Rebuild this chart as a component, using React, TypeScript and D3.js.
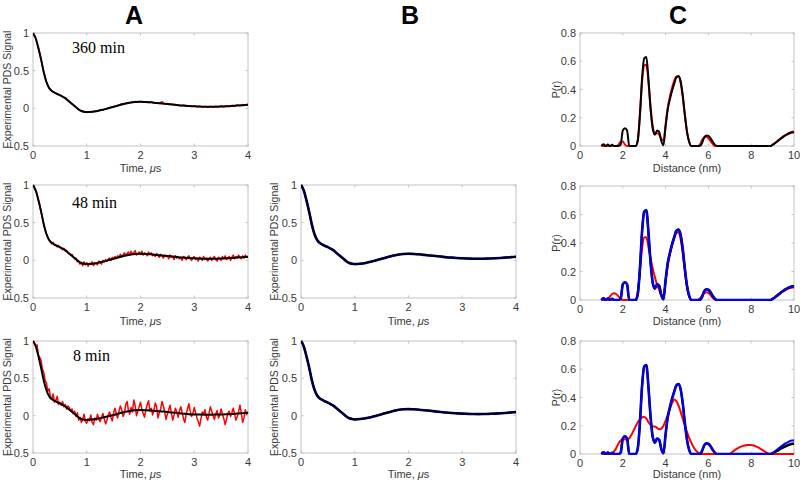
import React from "react";
import * as d3 from "d3";

// ---------- Panel A / B : fitted time-domain curves ----------
const FIT_T = [0, 0.05, 0.1, 0.15, 0.2, 0.25, 0.3, 0.35, 0.4, 0.45, 0.5, 0.55, 0.6, 0.65, 0.7, 0.75, 0.8, 0.85, 0.9, 0.95, 1.0, 1.1, 1.2, 1.3, 1.4, 1.5, 1.6, 1.7, 1.8, 1.9, 2.0, 2.1, 2.2, 2.3, 2.4, 2.5, 2.6, 2.7, 2.8, 2.9, 3.0, 3.1, 3.2, 3.3, 3.4, 3.5, 3.6, 3.7, 3.8, 3.9, 4.0];
const FIT_MAIN = [1.0, 0.93, 0.8, 0.65, 0.48, 0.35, 0.27, 0.23, 0.21, 0.19, 0.175, 0.155, 0.135, 0.105, 0.075, 0.045, 0.015, -0.015, -0.035, -0.045, -0.05, -0.045, -0.035, -0.02, 0.0, 0.02, 0.04, 0.06, 0.075, 0.085, 0.088, 0.085, 0.08, 0.072, 0.065, 0.057, 0.05, 0.042, 0.036, 0.031, 0.027, 0.024, 0.022, 0.021, 0.022, 0.024, 0.027, 0.031, 0.036, 0.042, 0.048];
const FIT_8 = [1.0, 0.93, 0.8, 0.64, 0.47, 0.34, 0.26, 0.22, 0.2, 0.18, 0.165, 0.145, 0.125, 0.095, 0.065, 0.035, 0.005, -0.025, -0.045, -0.055, -0.058, -0.052, -0.04, -0.025, -0.008, 0.01, 0.03, 0.048, 0.062, 0.071, 0.075, 0.074, 0.07, 0.064, 0.057, 0.05, 0.042, 0.034, 0.027, 0.02, 0.016, 0.014, 0.013, 0.013, 0.014, 0.016, 0.019, 0.023, 0.028, 0.034, 0.04];

// Experimental (red) traces, sampled every 25 ns (8 & 48 min) and 50 ns (360 min)
const EXP_8MIN = [
  1.0, 0.98, 0.93, 0.95, 0.82, 0.78, 0.74, 0.62, 0.58, 0.47, 0.44, 0.33, 0.36, 0.25, 0.22, 0.29, 0.18, 0.2, 0.26, 0.15,
  0.18, 0.14, 0.19, 0.12, 0.15, 0.09, 0.13, 0.11, 0.06, 0.09,
  0.03, 0.06, -0.01, 0.04, -0.06, -0.02, -0.09, -0.05, 0.02, -0.08,
  -0.1, -0.04, -0.07, 0.01, -0.09, -0.12, -0.03, -0.06, 0.02, -0.05,
  -0.08, -0.02, 0.03, -0.04, -0.11, -0.06, 0.01, 0.05, -0.02, -0.07,
  0.04, 0.1, 0.02, -0.03, 0.06, 0.13, 0.08, -0.01, 0.03, 0.15,
  0.19, 0.07, 0.02, 0.11, 0.05, 0.21, 0.14, 0.0, 0.06, 0.12,
  0.18, 0.09, 0.03, -0.02, 0.08, 0.15, 0.2, 0.06, 0.1, 0.01,
  0.07, 0.17, 0.12, -0.03, 0.04, 0.09, 0.19, 0.13, 0.05, -0.05,
  0.02, 0.08, 0.14, 0.03, -0.06, 0.01, 0.1, 0.05, -0.02, 0.07,
  0.12, 0.04, -0.04, -0.09, 0.02, 0.09, 0.16, 0.06, -0.01, 0.03,
  0.11, 0.04, -0.03, -0.08, -0.14, -0.04, 0.05, 0.02, 0.08, -0.02,
  -0.06, 0.03, 0.12, 0.06, 0.0, -0.05, 0.02, 0.07, -0.03, 0.01,
  0.09, 0.02, -0.04, -0.12, -0.05, 0.03, 0.06, -0.01, 0.04, 0.1,
  0.03, -0.06, -0.01, 0.05, 0.14, 0.04, -0.09, -0.03, 0.08, 0.02,
  0.05,
];
const EXP_48MIN = [
  1.0, 0.96, 0.92, 0.88, 0.8, 0.73, 0.64, 0.57, 0.48, 0.41, 0.35, 0.31, 0.27, 0.25, 0.22, 0.24, 0.2, 0.21, 0.18, 0.2,
  0.17, 0.16, 0.14, 0.16, 0.12, 0.13, 0.1, 0.09, 0.07, 0.08,
  0.04, 0.02, 0.03, -0.02, -0.01, -0.05, -0.03, -0.07, -0.02, -0.06,
  -0.03, -0.08, -0.04, -0.05, -0.02, -0.07, -0.03, -0.04, -0.06, -0.01,
  -0.03, -0.05, 0.0, -0.02, 0.01, -0.01, 0.02, 0.03, 0.0, 0.04,
  0.02, 0.05, 0.03, 0.06, 0.04, 0.08, 0.05, 0.07, 0.1, 0.06,
  0.09, 0.11, 0.07, 0.12, 0.08, 0.1, 0.13, 0.07, 0.09, 0.11,
  0.08, 0.12, 0.07, 0.1, 0.09, 0.06, 0.11, 0.08, 0.1, 0.06,
  0.08, 0.05, 0.09, 0.07, 0.04, 0.08, 0.06, 0.03, 0.07, 0.05,
  0.06, 0.02, 0.07, 0.04, 0.05, 0.01, 0.06, 0.03, 0.05, 0.02,
  0.04, 0.0, 0.05, 0.03, 0.01, 0.04, 0.06, 0.02, 0.0, 0.03,
  0.05, 0.01, 0.03, -0.01, 0.04, 0.02, 0.0, 0.05, 0.01, 0.03,
  -0.01, 0.02, 0.04, 0.0, 0.03, 0.05, 0.01, -0.01, 0.04, 0.02,
  0.0, 0.05, 0.02, 0.06, 0.01, 0.03, 0.05, 0.0, 0.04, 0.07,
  0.02, 0.05, 0.03, 0.07, 0.04, 0.02, 0.06, 0.03, 0.07, 0.04,
  0.05,
];
const EXP_360MIN = [1.0, 0.93, 0.8, 0.65, 0.48, 0.35, 0.27, 0.23, 0.21, 0.19, 0.175, 0.155, 0.135, 0.105, 0.075, 0.045, 0.015, -0.02, -0.035, -0.05, -0.055, -0.045, -0.05, -0.035, -0.04, -0.02, -0.025, -0.005, 0.0, 0.015, 0.018, 0.035, 0.04, 0.062, 0.058, 0.07, 0.078, 0.08, 0.09, 0.083, 0.092, 0.08, 0.088, 0.076, 0.082, 0.07, 0.075, 0.065, 0.088, 0.058, 0.06, 0.05, 0.053, 0.04, 0.045, 0.035, 0.04, 0.028, 0.035, 0.025, 0.03, 0.02, 0.028, 0.018, 0.026, 0.015, 0.025, 0.018, 0.028, 0.02, 0.03, 0.022, 0.032, 0.025, 0.04, 0.03, 0.045, 0.035, 0.05, 0.04, 0.055];

// ---------- Panel C : distance distributions [r (nm), P(r)] ----------
const PR_FIT: [number, number][] = [[1.0, 0], [1.1, 0.012], [1.2, 0], [1.3, 0.01], [1.4, 0], [1.5, 0.008], [1.6, 0], [1.8, 0], [1.9, 0.01], [2.0, 0.11], [2.1, 0.125], [2.2, 0.11], [2.3, 0], [2.6, 0], [2.7, 0.04], [2.8, 0.22], [2.9, 0.48], [3.0, 0.62], [3.1, 0.63], [3.2, 0.47], [3.3, 0.26], [3.4, 0.12], [3.5, 0.08], [3.6, 0.11], [3.7, 0.1], [3.8, 0.035], [3.9, 0.005], [4.0, 0.14], [4.1, 0.26], [4.2, 0.33], [4.3, 0.39], [4.4, 0.44], [4.5, 0.485], [4.6, 0.495], [4.7, 0.46], [4.8, 0.36], [4.9, 0.22], [5.0, 0.1], [5.1, 0.03], [5.2, 0], [5.6, 0], [5.7, 0.02], [5.8, 0.06], [5.9, 0.075], [6.0, 0.072], [6.1, 0.055], [6.2, 0.03], [6.3, 0.01], [6.4, 0], [8.9, 0], [9.0, 0.008], [9.1, 0.018], [9.2, 0.03], [9.3, 0.042], [9.4, 0.054], [9.5, 0.065], [9.6, 0.075], [9.7, 0.083], [9.8, 0.09], [9.9, 0.095], [10.0, 0.098]];
const PR_FIT_8: [number, number][] = [[1.0, 0], [1.1, 0.012], [1.2, 0], [1.3, 0.01], [1.4, 0], [1.5, 0.008], [1.6, 0], [1.8, 0], [1.9, 0.01], [2.0, 0.11], [2.1, 0.125], [2.2, 0.11], [2.3, 0], [2.6, 0], [2.7, 0.04], [2.8, 0.22], [2.9, 0.48], [3.0, 0.62], [3.1, 0.63], [3.2, 0.47], [3.3, 0.26], [3.4, 0.12], [3.5, 0.08], [3.6, 0.11], [3.7, 0.1], [3.8, 0.035], [3.9, 0.005], [4.0, 0.14], [4.1, 0.26], [4.2, 0.33], [4.3, 0.39], [4.4, 0.44], [4.5, 0.485], [4.6, 0.495], [4.7, 0.46], [4.8, 0.36], [4.9, 0.22], [5.0, 0.1], [5.1, 0.03], [5.2, 0], [5.6, 0], [5.7, 0.02], [5.8, 0.06], [5.9, 0.075], [6.0, 0.072], [6.1, 0.055], [6.2, 0.03], [6.3, 0.01], [6.4, 0], [8.9, 0], [9.0, 0.005], [9.2, 0.022], [9.4, 0.04], [9.6, 0.055], [9.8, 0.067], [10.0, 0.075]];
const PR_360: [number, number][] = [[1.0, 0], [1.7, 0], [1.8, 0.01], [1.9, 0.03], [2.0, 0.032], [2.1, 0.01], [2.2, 0], [2.6, 0], [2.7, 0.04], [2.8, 0.22], [2.9, 0.45], [3.0, 0.57], [3.1, 0.575], [3.2, 0.45], [3.3, 0.27], [3.4, 0.14], [3.5, 0.09], [3.6, 0.09], [3.7, 0.08], [3.8, 0.05], [3.9, 0.04], [4.0, 0.15], [4.1, 0.27], [4.2, 0.35], [4.3, 0.41], [4.4, 0.46], [4.5, 0.49], [4.6, 0.49], [4.7, 0.45], [4.8, 0.35], [4.9, 0.22], [5.0, 0.1], [5.1, 0.03], [5.2, 0], [5.5, 0], [5.6, 0.01], [5.7, 0.04], [5.8, 0.06], [5.9, 0.065], [6.0, 0.055], [6.1, 0.035], [6.2, 0.015], [6.3, 0], [8.9, 0], [9.0, 0.01], [9.1, 0.02], [9.2, 0.032], [9.3, 0.045], [9.4, 0.057], [9.5, 0.068], [9.6, 0.078], [9.7, 0.087], [9.8, 0.094], [9.9, 0.099], [10.0, 0.102]];
const PR_48: [number, number][] = [[1.0, 0], [1.2, 0], [1.3, 0.005], [1.4, 0.025], [1.5, 0.042], [1.6, 0.047], [1.7, 0.04], [1.8, 0.025], [1.9, 0.008], [2.0, 0], [2.6, 0], [2.7, 0.06], [2.8, 0.2], [2.9, 0.36], [3.0, 0.44], [3.1, 0.44], [3.2, 0.37], [3.3, 0.29], [3.4, 0.22], [3.5, 0.16], [3.6, 0.11], [3.7, 0.07], [3.8, 0.03], [3.9, 0.03], [4.0, 0.13], [4.1, 0.24], [4.2, 0.32], [4.3, 0.38], [4.4, 0.43], [4.5, 0.47], [4.6, 0.475], [4.7, 0.43], [4.8, 0.33], [4.9, 0.2], [5.0, 0.09], [5.1, 0.025], [5.2, 0], [5.5, 0], [5.6, 0.01], [5.7, 0.03], [5.8, 0.05], [5.9, 0.055], [6.0, 0.05], [6.1, 0.035], [6.2, 0.015], [6.3, 0.003], [6.4, 0], [8.9, 0], [9.0, 0.008], [9.2, 0.028], [9.4, 0.05], [9.6, 0.07], [9.8, 0.083], [10.0, 0.09]];
const PR_8: [number, number][] = [[1.0, 0], [1.5, 0], [1.6, 0.02], [1.7, 0.045], [1.8, 0.075], [1.9, 0.095], [2.0, 0.105], [2.1, 0.105], [2.2, 0.1], [2.3, 0.11], [2.4, 0.135], [2.5, 0.165], [2.6, 0.195], [2.7, 0.225], [2.8, 0.245], [2.9, 0.26], [3.0, 0.262], [3.1, 0.25], [3.2, 0.225], [3.3, 0.205], [3.4, 0.195], [3.5, 0.195], [3.6, 0.185], [3.7, 0.175], [3.8, 0.18], [3.9, 0.2], [4.0, 0.235], [4.1, 0.275], [4.2, 0.32], [4.3, 0.36], [4.4, 0.385], [4.5, 0.375], [4.6, 0.345], [4.7, 0.3], [4.8, 0.25], [4.9, 0.2], [5.0, 0.155], [5.1, 0.115], [5.2, 0.08], [5.3, 0.05], [5.4, 0.028], [5.5, 0.012], [5.6, 0.003], [5.7, 0], [7.0, 0], [7.1, 0.012], [7.2, 0.024], [7.3, 0.034], [7.4, 0.043], [7.5, 0.05], [7.6, 0.056], [7.7, 0.06], [7.8, 0.063], [7.9, 0.064], [8.0, 0.063], [8.1, 0.06], [8.2, 0.055], [8.3, 0.048], [8.4, 0.04], [8.5, 0.031], [8.6, 0.021], [8.7, 0.011], [8.8, 0.003], [8.9, 0], [10.0, 0]];

const TIME_TICKS = [0, 1, 2, 3, 4];
const SIGNAL_TICKS = [-0.5, 0, 0.5, 1];
const DIST_TICKS = [0, 2, 4, 6, 8, 10];
const PR_TICKS = [0, 0.2, 0.4, 0.6, 0.8];
const PANEL_LETTERS = ["A", "B", "C"];
const TIME_LABELS = ["360 min", "48 min", "8 min"];

const FONT = "'Liberation Sans', Arial, sans-serif";
const BOX = "#c4c4c4";
const TXT = "#3a3a3a";

type Series = { pts: [number, number][]; color: string; width: number; curve?: any };

const toPts = (t: number[], v: number[]): [number, number][] => v.map((y, i) => [t[i], y]);
const sampled = (v: number[], dt: number): [number, number][] => v.map((y, i) => [i * dt, y]);

let clipId = 0;

function Panel(props: {
  x0: number; x1: number; y0: number; y1: number;
  xDom: [number, number]; yDom: [number, number];
  xTicks: number[]; yTicks: number[];
  series: Series[]; ylabel: string; ylabelX: number;
  xlabel: React.ReactNode; xlabelY: number; note?: string; noteXY?: [number, number];
}) {
  const { x0, x1, y0, y1, xDom, yDom, xTicks, yTicks, series } = props;
  const x = d3.scaleLinear().domain(xDom).range([x0, x1]);
  const y = d3.scaleLinear().domain(yDom).range([y1, y0]);
  const id = `clip${clipId++}`;
  const tl = 2.5;
  const fmt = (v: number) => (v < 0 ? "-" + String(-v) : String(v));
  return (
    <g>
      <defs>
        <clipPath id={id}>
          <rect x={x0} y={y0 - 2} width={x1 - x0 + 1} height={y1 - y0 + 3} />
        </clipPath>
      </defs>
      <rect x={x0} y={y0} width={x1 - x0} height={y1 - y0} fill="#fff" stroke={BOX} strokeWidth={1} />
      {xTicks.map((t) => (
        <g key={"xt" + t}>
          <line x1={x(t)} x2={x(t)} y1={y1} y2={y1 - tl} stroke={BOX} />
          <line x1={x(t)} x2={x(t)} y1={y0} y2={y0 + tl} stroke={BOX} />
          <text x={x(t)} y={y1 + 13} textAnchor="middle" fontSize={11} fill={TXT} fontFamily={FONT}>{fmt(t)}</text>
        </g>
      ))}
      {yTicks.map((t) => (
        <g key={"yt" + t}>
          <line x1={x0} x2={x0 + tl} y1={y(t)} y2={y(t)} stroke={BOX} />
          <line x1={x1} x2={x1 - tl} y1={y(t)} y2={y(t)} stroke={BOX} />
          <text x={x0 - 4} y={y(t) + 4} textAnchor="end" fontSize={11} fill={TXT} fontFamily={FONT}>{fmt(t)}</text>
        </g>
      ))}
      <g clipPath={`url(#${id})`}>
        {series.map((s, i) => {
          const line = d3.line<[number, number]>().x((d) => x(d[0])).y((d) => y(d[1])).curve(s.curve || d3.curveMonotoneX);
          return <path key={i} d={line(s.pts) || ""} fill="none" stroke={s.color} strokeWidth={s.width} strokeLinejoin="round" />;
        })}
      </g>
      <text transform={`translate(${props.ylabelX},${(y0 + y1) / 2}) rotate(-90)`} textAnchor="middle" fontSize={10.5} fill={TXT} fontFamily={FONT}>{props.ylabel}</text>
      <text x={(x0 + x1) / 2} y={props.xlabelY} textAnchor="middle" fontSize={11} fill={TXT} fontFamily={FONT}>{props.xlabel}</text>
      {props.note && props.noteXY && (
        <text x={props.noteXY[0]} y={props.noteXY[1]} fontSize={16} fill="#000" fontFamily="'Liberation Serif', 'Times New Roman', serif">{props.note}</text>
      )}
    </g>
  );
}

const timeLabel = (
  <>
    Time, <tspan fontStyle="italic">μ</tspan>s
  </>
);

export default function App() {
  clipId = 0;
  const rows = [
    { y0: 33, y1: 146, cy0: 33, cy1: 146, xl: 172 },
    { y0: 185, y1: 298, cy0: 186, cy1: 300, xl: 325 },
    { y0: 341, y1: 453, cy0: 341, cy1: 454, xl: 478 },
  ];
  const expData = [sampled(EXP_360MIN, 0.05), sampled(EXP_48MIN, 0.025), sampled(EXP_8MIN, 0.025)];
  const fitA = [toPts(FIT_T, FIT_MAIN), toPts(FIT_T, FIT_MAIN), toPts(FIT_T, FIT_8)];
  const notes: [number, number][] = [[72, 53], [72, 208], [73, 361]];
  const prRed = [PR_360, PR_48, PR_8];
  const letterX = [134, 410, 678];
  return (
    <svg width={800} height={484} style={{ position: "absolute", left: 0, top: 0, background: "#fff" }}>
      <rect x={0} y={0} width={800} height={484} fill="#fff" />
      {PANEL_LETTERS.map((l, i) => (
        <text key={l} x={letterX[i]} y={24} textAnchor="middle" fontSize={25} fontWeight="bold" fill="#000" fontFamily={FONT}>{l}</text>
      ))}
      {rows.map((r, i) => (
        <Panel key={"A" + i} x0={33} x1={248} y0={r.y0} y1={r.y1} xDom={[0, 4]} yDom={[-0.5, 1]}
          xTicks={TIME_TICKS} yTicks={SIGNAL_TICKS}
          series={[
            { pts: expData[i], color: "#ff0000", width: 1.5, curve: d3.curveLinear },
            { pts: fitA[i], color: "#000", width: 2 },
          ]}
          ylabel="Experimental PDS Signal" ylabelX={11} xlabel={timeLabel} xlabelY={r.xl}
          note={TIME_LABELS[i]} noteXY={notes[i]} />
      ))}
      {rows.slice(1).map((r, j) => {
        const i = j + 1;
        return (
          <Panel key={"B" + i} x0={301} x1={516} y0={r.y0} y1={r.y1} xDom={[0, 4]} yDom={[-0.5, 1]}
            xTicks={TIME_TICKS} yTicks={SIGNAL_TICKS}
            series={[
              { pts: toPts(FIT_T, FIT_MAIN), color: "#0000ff", width: 2.6 },
              { pts: toPts(FIT_T, FIT_MAIN), color: "#000", width: 2 },
            ]}
            ylabel="Experimental PDS Signal" ylabelX={278} xlabel={timeLabel} xlabelY={r.xl} />
        );
      })}
      {rows.map((r, i) => {
        const series: Series[] = i === 0
          ? [
              { pts: prRed[i], color: "#ff0000", width: 2 },
              { pts: PR_FIT, color: "#000", width: 2 },
            ]
          : [
              { pts: prRed[i], color: "#ff0000", width: 2 },
              { pts: i === 2 ? PR_FIT_8 : PR_FIT, color: "#000", width: 2.6 },
              { pts: PR_FIT, color: "#0000ff", width: 2 },
            ];
        return (
          <Panel key={"C" + i} x0={580} x1={794} y0={r.cy0} y1={r.cy1} xDom={[0, 10]} yDom={[0, 0.8]}
            xTicks={DIST_TICKS} yTicks={PR_TICKS} series={series}
            ylabel="P(r)" ylabelX={560} xlabel="Distance (nm)" xlabelY={r.xl} />
        );
      })}
    </svg>
  );
}
